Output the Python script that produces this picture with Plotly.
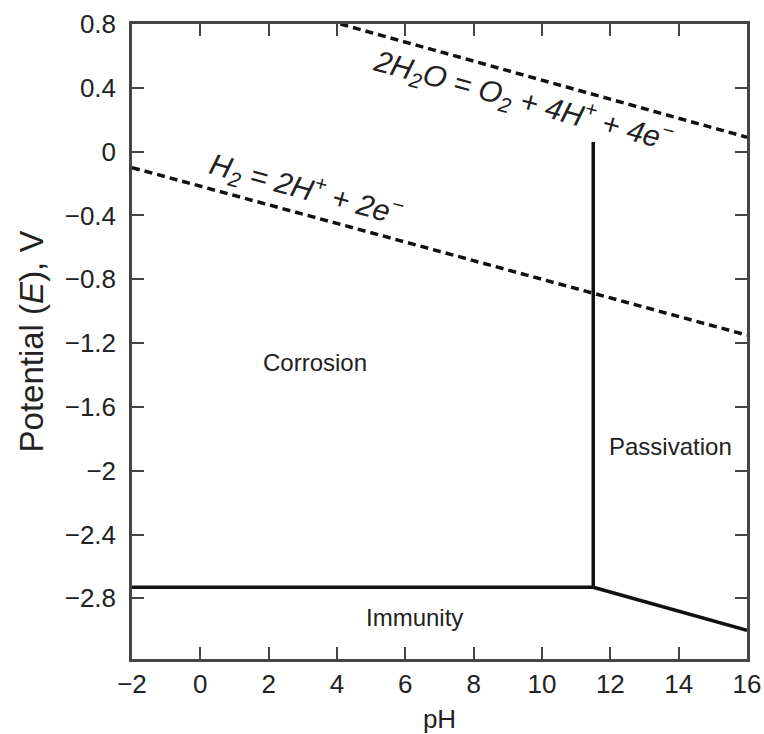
import plotly.graph_objects as go

# ---- data ----
ph_ticks = [-2, 0, 2, 4, 6, 8, 10, 12, 14, 16]
e_ticks = [0.8, 0.4, 0, -0.4, -0.8, -1.2, -1.6, -2, -2.4, -2.8]
e_tick_labels = ["0.8", "0.4", "0", "\u22120.4", "\u22120.8", "\u22121.2",
                 "\u22121.6", "\u22122", "\u22122.4", "\u22122.8"]

immunity_ph = [-2, 11.5]
immunity_E = [-2.73, -2.73]
passivation_ph = [11.5, 11.5]
passivation_E = [-2.73, 0.06]
alkaline_ph = [11.5, 16]
alkaline_E = [-2.73, -3.0]
h2_ph = [-2, 16]
h2_E = [-0.1, -1.15]
o2_ph = [4.1, 16]
o2_E = [0.8, 0.09]

FONT = "Liberation Sans, Arial, sans-serif"
INK = "#222222"

fig = go.Figure()
solid = dict(color="#111111", width=3.5)
dashed = dict(color="#111111", width=3.5, dash="8px,5px")
for xs, ys, ln in [(h2_ph, h2_E, dashed), (o2_ph, o2_E, dashed),
                   (immunity_ph, immunity_E, solid),
                   (passivation_ph, passivation_E, solid),
                   (alkaline_ph, alkaline_E, solid)]:
    fig.add_trace(go.Scatter(x=xs, y=ys, mode="lines", line=ln,
                             showlegend=False, hoverinfo="skip"))

ann_font = dict(family=FONT, size=24, color=INK)
eq_font = dict(family=FONT, size=30, color=INK)
annotations = [
    dict(x=3.36, y=-1.32, text="Corrosion", font=ann_font),
    dict(x=13.75, y=-1.85, text="Passivation", font=ann_font),
    dict(x=6.28, y=-2.92, text="Immunity", font=ann_font),
    dict(x=3.09, y=-0.235, textangle=15.3, font=eq_font,
         text="<i>H<sub>2</sub> = 2H<sup>+</sup> + 2e<sup>\u2212</sup></i>"),
    dict(x=9.44, y=0.323, textangle=15.3, font=eq_font,
         text="<i>2H<sub>2</sub>O = O<sub>2</sub> + 4H<sup>+</sup> + 4e<sup>\u2212</sup></i>"),
]
for a in annotations:
    a.update(xref="x", yref="y", showarrow=False)

axis_common = dict(
    showline=True, linecolor="#444", linewidth=2.5, mirror="ticks",
    ticks="inside", ticklen=12, tickwidth=2, tickcolor="#444",
    showgrid=False, zeroline=False, automargin=False,
    tickfont=dict(family=FONT, size=26, color=INK),
)

fig.update_layout(
    width=764, height=734,
    margin=dict(l=132, r=17, t=24, b=75),
    paper_bgcolor="white", plot_bgcolor="white",
    annotations=annotations,
    xaxis=dict(range=[-2, 16], tickvals=ph_ticks, ticklabelstandoff=0,
               title=dict(text="pH", font=dict(family=FONT, size=26, color=INK), standoff=12),
               **axis_common),
    yaxis=dict(range=[-3.18, 0.8], tickvals=e_ticks, ticktext=e_tick_labels,
               ticklabelstandoff=8,
               title=dict(text="Potential (<i>E</i>), V",
                          font=dict(family=FONT, size=33, color=INK), standoff=12),
               **axis_common),
)

fig.write_html("out.html")
